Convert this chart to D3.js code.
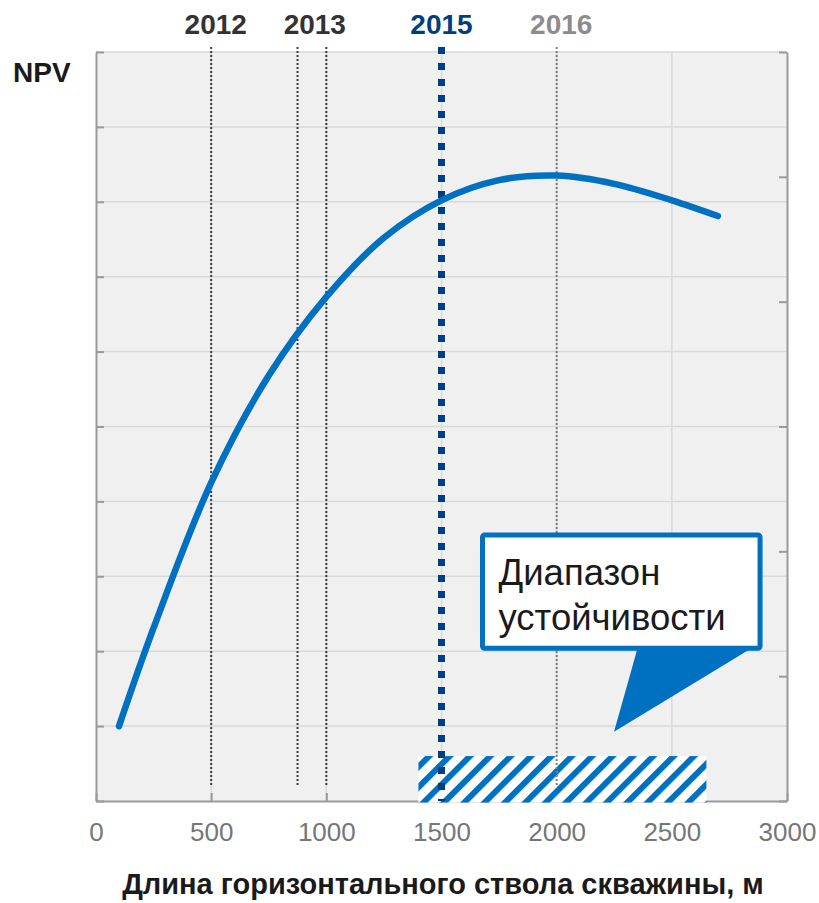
<!DOCTYPE html>
<html>
<head>
<meta charset="utf-8">
<script src="https://cdn.jsdelivr.net/npm/d3@7"></script>
<style>
  html, body { margin: 0; padding: 0; background: #ffffff; }
  svg { display: block; font-family: "Liberation Sans", Arial, sans-serif; }
</style>
</head>
<body>
<svg id="chart" width="819" height="903"></svg>
<script>
// Horizontal section length, m
const lengths = [100, 250, 500, 750, 1000, 1250, 1500, 1750, 2000, 2250, 2500, 2700];
// NPV, relative units
const npv = [1.00, 2.31, 4.25, 5.68, 6.73, 7.52, 8.02, 8.29, 8.35, 8.24, 8.02, 7.81];

// X axis tick labels
const xTicks = [0, 500, 1000, 1500, 2000, 2500, 3000];

// Year markers: label, line positions (m), label anchor (m)
const years = ["2012", "2013", "2015", "2016"];
const yearLines = [[500], [875, 1000], [1500], [2000]];
const yearLabelAt = [520, 950, 1500, 2020];

// Stability range, m
const stableRange = [1400, 2650];

const calloutText = ["Диапазон", "устойчивости"];
const yLabel = "NPV";
const xLabel = "Длина горизонтального ствола скважины, м";

// ---------- layout ----------
const plot = { left: 96, right: 787, top: 52, bottom: 801 };

const svg = d3.select("#chart");

const x = d3.scaleLinear().domain([0, 3000]).range([plot.left, plot.right]);
const yL = d3.scaleLinear().domain([0, 10]).range([plot.bottom, plot.top]);
const yR = d3.scaleLinear().domain([0, 6]).range([plot.bottom, plot.top]);

const yearStyle = {
  "2012": { color: "#3c3c3c", width: 2, dash: "2,2", label: "#333333", lineBottomGap: 15 },
  "2013": { color: "#3c3c3c", width: 2, dash: "2,2", label: "#333333", lineBottomGap: 16 },
  "2015": { color: "#003f7f", width: 7, dash: "7,9", label: "#003f7f", lineBottomGap: 0 },
  "2016": { color: "#7f7f7f", width: 2, dash: "2,2", label: "#8c8c8c", lineBottomGap: 14 }
};

// hatch pattern for the stability range
const defs = svg.append("defs");
const pat = defs.append("pattern")
  .attr("id", "hatch")
  .attr("patternUnits", "userSpaceOnUse")
  .attr("width", 14.4).attr("height", 14.4)
  .attr("patternTransform", "rotate(45)");
pat.append("rect").attr("width", 14.4).attr("height", 14.4).attr("fill", "#ffffff");
pat.append("rect").attr("width", 6).attr("height", 14.4).attr("fill", "#0070c0");

// plot background
svg.append("rect")
  .attr("x", plot.left).attr("y", plot.top)
  .attr("width", plot.right - plot.left).attr("height", plot.bottom - plot.top)
  .attr("fill", "#f0f0f0");

// grid
const grid = svg.append("g").attr("stroke", "#d9d9d9").attr("stroke-width", 1.5);
grid.selectAll("line.v")
  .data(xTicks.filter(d => d > 0 && d < 3000))
  .join("line")
  .attr("x1", d => x(d)).attr("x2", d => x(d))
  .attr("y1", plot.top).attr("y2", plot.bottom);
grid.selectAll("line.h")
  .data(yL.ticks(10).filter(d => d > 0))
  .join("line")
  .attr("x1", plot.left).attr("x2", plot.right)
  .attr("y1", d => yL(d)).attr("y2", d => yL(d));

// axes
const axisColor = "#9a9a9a";
function styleAxis(g) {
  g.select(".domain").attr("stroke", axisColor).attr("stroke-width", 2);
  g.selectAll(".tick line").attr("stroke", axisColor).attr("stroke-width", 2);
}

const gx = svg.append("g")
  .attr("transform", `translate(0,${plot.bottom})`)
  .call(d3.axisBottom(x).tickValues(xTicks).tickFormat(d3.format("d"))
    .tickSizeInner(-8).tickSizeOuter(0).tickPadding(22));
styleAxis(gx);
gx.selectAll(".tick text")
  .attr("fill", "#767676")
  .attr("font-size", 26)
  .attr("font-family", "'Liberation Sans', Arial, sans-serif");

const gl = svg.append("g")
  .attr("transform", `translate(${plot.left},0)`)
  .call(d3.axisLeft(yL).ticks(10).tickSizeInner(-8).tickSizeOuter(0).tickFormat(""));
styleAxis(gl);

const gr = svg.append("g")
  .attr("transform", `translate(${plot.right},0)`)
  .call(d3.axisRight(yR).ticks(6).tickSizeInner(-8).tickSizeOuter(0).tickFormat(""));
styleAxis(gr);

// stability range band
svg.append("rect")
  .attr("x", x(stableRange[0]))
  .attr("y", yL(0.6))
  .attr("width", x(stableRange[1]) - x(stableRange[0]))
  .attr("height", yL(0) - yL(0.6) + 1.5)
  .attr("fill", "url(#hatch)");

// year markers
years.forEach((yr, i) => {
  const s = yearStyle[yr];
  svg.append("g").selectAll("line")
    .data(yearLines[i])
    .join("line")
    .attr("x1", d => x(d)).attr("x2", d => x(d))
    .attr("y1", plot.top - 5)
    .attr("y2", plot.bottom - s.lineBottomGap)
    .attr("stroke", s.color)
    .attr("stroke-width", s.width)
    .attr("stroke-dasharray", s.dash);
  svg.append("text")
    .attr("x", x(yearLabelAt[i]))
    .attr("y", 34)
    .attr("text-anchor", "middle")
    .attr("font-size", 28)
    .attr("font-weight", "bold")
    .attr("fill", s.label)
    .text(yr);
});

// NPV curve
const line = d3.line()
  .x(d => x(d[0]))
  .y(d => yL(d[1]))
  .curve(d3.curveCatmullRom.alpha(0.5));
svg.append("path")
  .datum(lengths.map((l, i) => [l, npv[i]]))
  .attr("d", line)
  .attr("fill", "none")
  .attr("stroke", "#0070c0")
  .attr("stroke-width", 6.5)
  .attr("stroke-linecap", "round");

// callout
const callout = svg.append("g");
callout.append("path")
  .attr("d", `M${x(2351)},${yL(2.04)} L${x(2894)},${yL(2.13)} L${x(2249)},${yL(0.925)} Z`)
  .attr("fill", "#0070c0");
callout.append("rect")
  .attr("x", x(1678)).attr("y", yL(3.55))
  .attr("width", x(2883) - x(1678)).attr("height", yL(2.04) - yL(3.55))
  .attr("rx", 2)
  .attr("fill", "#ffffff")
  .attr("stroke", "#0070c0")
  .attr("stroke-width", 5);
callout.selectAll("text")
  .data(calloutText)
  .join("text")
  .attr("x", x(1678) + 16)
  .attr("y", (d, i) => 585 + i * 45)
  .attr("font-size", 36.5)
  .attr("fill", "#1a1a1a")
  .text(d => d);

// axis titles
svg.append("text")
  .attr("x", 13).attr("y", 82)
  .attr("font-size", 28).attr("font-weight", "bold")
  .attr("fill", "#1a1a1a")
  .text(yLabel);

svg.append("text")
  .attr("x", 443).attr("y", 894)
  .attr("text-anchor", "middle")
  .attr("font-size", 29)
  .attr("font-weight", "bold")
  .attr("fill", "#1a1a1a")
  .text(xLabel);
</script>
</body>
</html>
